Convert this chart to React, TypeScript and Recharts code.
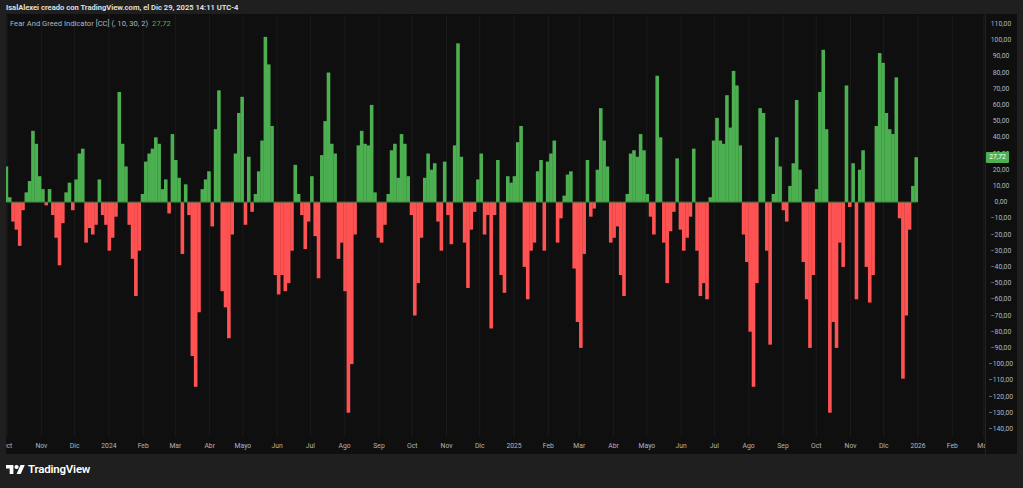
import React from 'react';
import { ComposedChart, Bar, XAxis, YAxis, CartesianGrid, ReferenceLine } from 'recharts';

// One bar every 3 days, starting 2023-10-01 (day 0)
const SAMPLE_STEP_DAYS = 3;

const fearGreed: number[] = [
  22, 3, -12, -17, -27, -5, 6, 13, 44, 36, 16, 8, -2, 8, -8, -22, -39, -13, 6, 12, -5, 14, 30, 33, -25, -16, -20, -14, 14, -8, -14, -30, -22, -9,
  68, 36, 22, -14, -35, -58, -30, 5, 25, 30, 33, 40, 36, 8, 14, -7, 42, 26, 15, -32, 11, -8, -95, -114, -68, 8, 14, 19, -15, 45, 69, -55, -65, -84, -20,
  30, 55, 65, -14, 28, -6, 5, 19, 38, 102, 85, 47, -45, -57, -45, -55, -50, -30, 23, 5, -8, -29, -12, 16, -21, -47, 29, 50, 80, 36, 30, -35, -25, -55,
  -130, -100, -20, 35, 44, 36, 35, 60, 6, -22, -25, -14, 5, 32, 36, 15, 42, 36, 16, -8, -70, -50, -22, 15, 30, 20, 24, -12, -30, 25, -8, -26, 35, 98, 28,
  -25, -53, -17, -6, 14, 30, -20, -8, -78, -8, 26, -45, -56, 16, 12, 16, 37, 47, -40, -60, -30, -25, 19, 26, -30, 25, 30, 38, -25, -10, 4, 17, 19, -41, -74,
  -90, -32, 26, -9, -4, 20, 58, 38, 22, -25, -22, -15, -45, -58, 5, 30, 32, 28, 42, 32, 5, -9, -20, 78, 40, -25, -50, -18, -6, 27, -17, -30, -22, -9,
  33, -30, -58, -50, -60, 3, 38, 52, 38, 36, 66, 46, 81, 72, 35, -20, -37, -80, -114, -50, 58, 55, -30, -88, 5, 40, 22, -5, -12, 10, 24, 63, 20, -37, -60,
  -90, -45, 8, 68, 94, 45, -130, -74, -90, -25, -40, 72, -3, 24, -60, 20, 32, -40, -62, -45, 47, 92, 86, 55, 45, 42, 77, -10, -109, -70, -17, 10, 27.72,
];

const monthTickDays = [0, 31, 61, 92, 123, 152, 183, 213, 244, 274, 305, 336, 366, 397, 427, 458, 489, 517, 548, 578, 609, 639, 670, 701, 731, 762, 792, 823, 854, 882];
const monthTickLabels = ['Oct', 'Nov', 'Dic', '2024', 'Feb', 'Mar', 'Abr', 'Mayo', 'Jun', 'Jul', 'Ago', 'Sep', 'Oct', 'Nov', 'Dic', '2025', 'Feb', 'Mar', 'Abr', 'Mayo', 'Jun', 'Jul', 'Ago', 'Sep', 'Oct', 'Nov', 'Dic', '2026', 'Feb', 'Mar'];
const priceTicks = [110, 100, 90, 80, 70, 60, 50, 40, 30, 20, 10, 0, -10, -20, -30, -40, -50, -60, -70, -80, -90, -100, -110, -120, -130, -140];

const lastValue = 27.72;
const headerText = 'IsalAlexei creado con TradingView.com, el Dic 29, 2025 14:11 UTC-4';
const indicatorName = 'Fear And Greed Indicator [CC] (, 10, 30, 2)';

const GREEN = '#4caf50';
const RED = '#ff5252';
const AXIS_TEXT = '#b2b5be';
const FONT = 'Roboto, "Open Sans", sans-serif';

const data = fearGreed.map((v, i) => ({ day: i * SAMPLE_STEP_DAYS - 0.5, value: v }));
const firstDay = data[0].day;
const lastDay = data[data.length - 1].day;

const fmt = (v: number) => v.toFixed(2).replace('.', ',').replace('-', '\u2212');

const labelByDay: Record<number, string> = {};
monthTickDays.forEach((d, i) => { labelByDay[d] = monthTickLabels[i]; });

const XTick = (props: any) => {
  const { x, y, payload } = props;
  return (
    <text x={x} y={y + 9} textAnchor="middle" dominantBaseline="central" fontSize={6.8} fill={AXIS_TEXT} fontFamily={FONT}>
      {labelByDay[payload.value]}
    </text>
  );
};

const YTick = (props: any) => {
  const { x, y, payload } = props;
  return (
    <text x={x + 16} y={y} textAnchor="middle" dominantBaseline="central" fontSize={6.8} fill={AXIS_TEXT} fontFamily={FONT}>
      {fmt(payload.value)}
    </text>
  );
};

const HistBar = (props: any) => {
  const { x, y, width, height, payload } = props;
  if (x == null || y == null) return null;
  const top = Math.min(y, y + height);
  const h = Math.abs(height);
  const fill = payload && payload.value >= 0 ? GREEN : RED;
  return <rect x={x - 0.3} y={top} width={width + 0.6} height={h} fill={fill} />;
};

export default function App() {
  return (
    <div style={{ position: 'fixed', left: 0, top: 0, width: 1023, height: 488, background: '#1f1f1f', overflow: 'hidden', fontFamily: FONT }}>
      <div style={{ position: 'absolute', left: 6, top: 2, fontSize: 7.6, fontWeight: 600, color: '#e6e6e6', lineHeight: '12px', whiteSpace: 'nowrap' }}>
        {headerText}
      </div>
      <div style={{ position: 'absolute', left: 6, top: 14, width: 1011, height: 440, background: '#0f0f0f' }}>
        <ComposedChart width={1011} height={440} data={data} margin={{ top: 1, right: 0, bottom: 0, left: 0 }} barGap={0} barCategoryGap={0}>
          <CartesianGrid vertical={true} horizontal={false} stroke="#1b1b1b" />
          <XAxis
            dataKey="day"
            type="number"
            domain={[-1, 883.5]}
            allowDataOverflow
            ticks={monthTickDays}
            interval={0}
            height={17}
            axisLine={false}
            tickLine={false}
            tickSize={0}
            tickMargin={0}
            tick={<XTick />}
          />
          <YAxis
            orientation="right"
            type="number"
            domain={[-145, 115.5]}
            allowDataOverflow
            ticks={priceTicks}
            interval={0}
            width={32}
            axisLine={false}
            tickLine={false}
            tickSize={0}
            tickMargin={0}
            tick={<YTick />}
          />
          <Bar dataKey="value" isAnimationActive={false} shape={<HistBar />} />
          <ReferenceLine
            segment={[{ x: firstDay, y: 0 }, { x: lastDay, y: 0 }]}
            stroke="#3d7440"
            strokeWidth={1}
            ifOverflow="hidden"
          />
        </ComposedChart>
        <div style={{ position: 'absolute', left: 4, top: 5, fontSize: 7.6, color: AXIS_TEXT, lineHeight: '10px', whiteSpace: 'nowrap' }}>
          <span>{indicatorName}</span>
          <span style={{ color: GREEN, marginLeft: 4 }}>{fmt(lastValue)}</span>
        </div>
        <div style={{ position: 'absolute', left: 979, top: 0, width: 1, height: 440, background: '#232323' }} />
        <div style={{ position: 'absolute', left: 980, top: 423, width: 31, height: 17, background: '#0f0f0f' }} />
        <div style={{ position: 'absolute', left: 980, top: 138, width: 23, height: 11, background: GREEN, borderRadius: 1, color: '#ffffff', fontSize: 6.8, lineHeight: '11px', textAlign: 'center' }}>
          {fmt(lastValue)}
        </div>
      </div>
      <div style={{ position: 'absolute', left: 6, top: 462, display: 'flex', alignItems: 'center' }}>
        <svg width={19} height={9} viewBox="0 4 36 18" preserveAspectRatio="none">
          <path d="M14 22H7V11H0V4h14v18z" fill="#ffffff" />
          <circle cx="20" cy="8" r="4" fill="#ffffff" />
          <path d="M28 22h-8l7.5-18h8L28 22z" fill="#ffffff" />
        </svg>
        <span style={{ marginLeft: 3, fontSize: 11.5, fontWeight: 600, color: '#ffffff', letterSpacing: '-0.2px' }}>TradingView</span>
      </div>
    </div>
  );
}
